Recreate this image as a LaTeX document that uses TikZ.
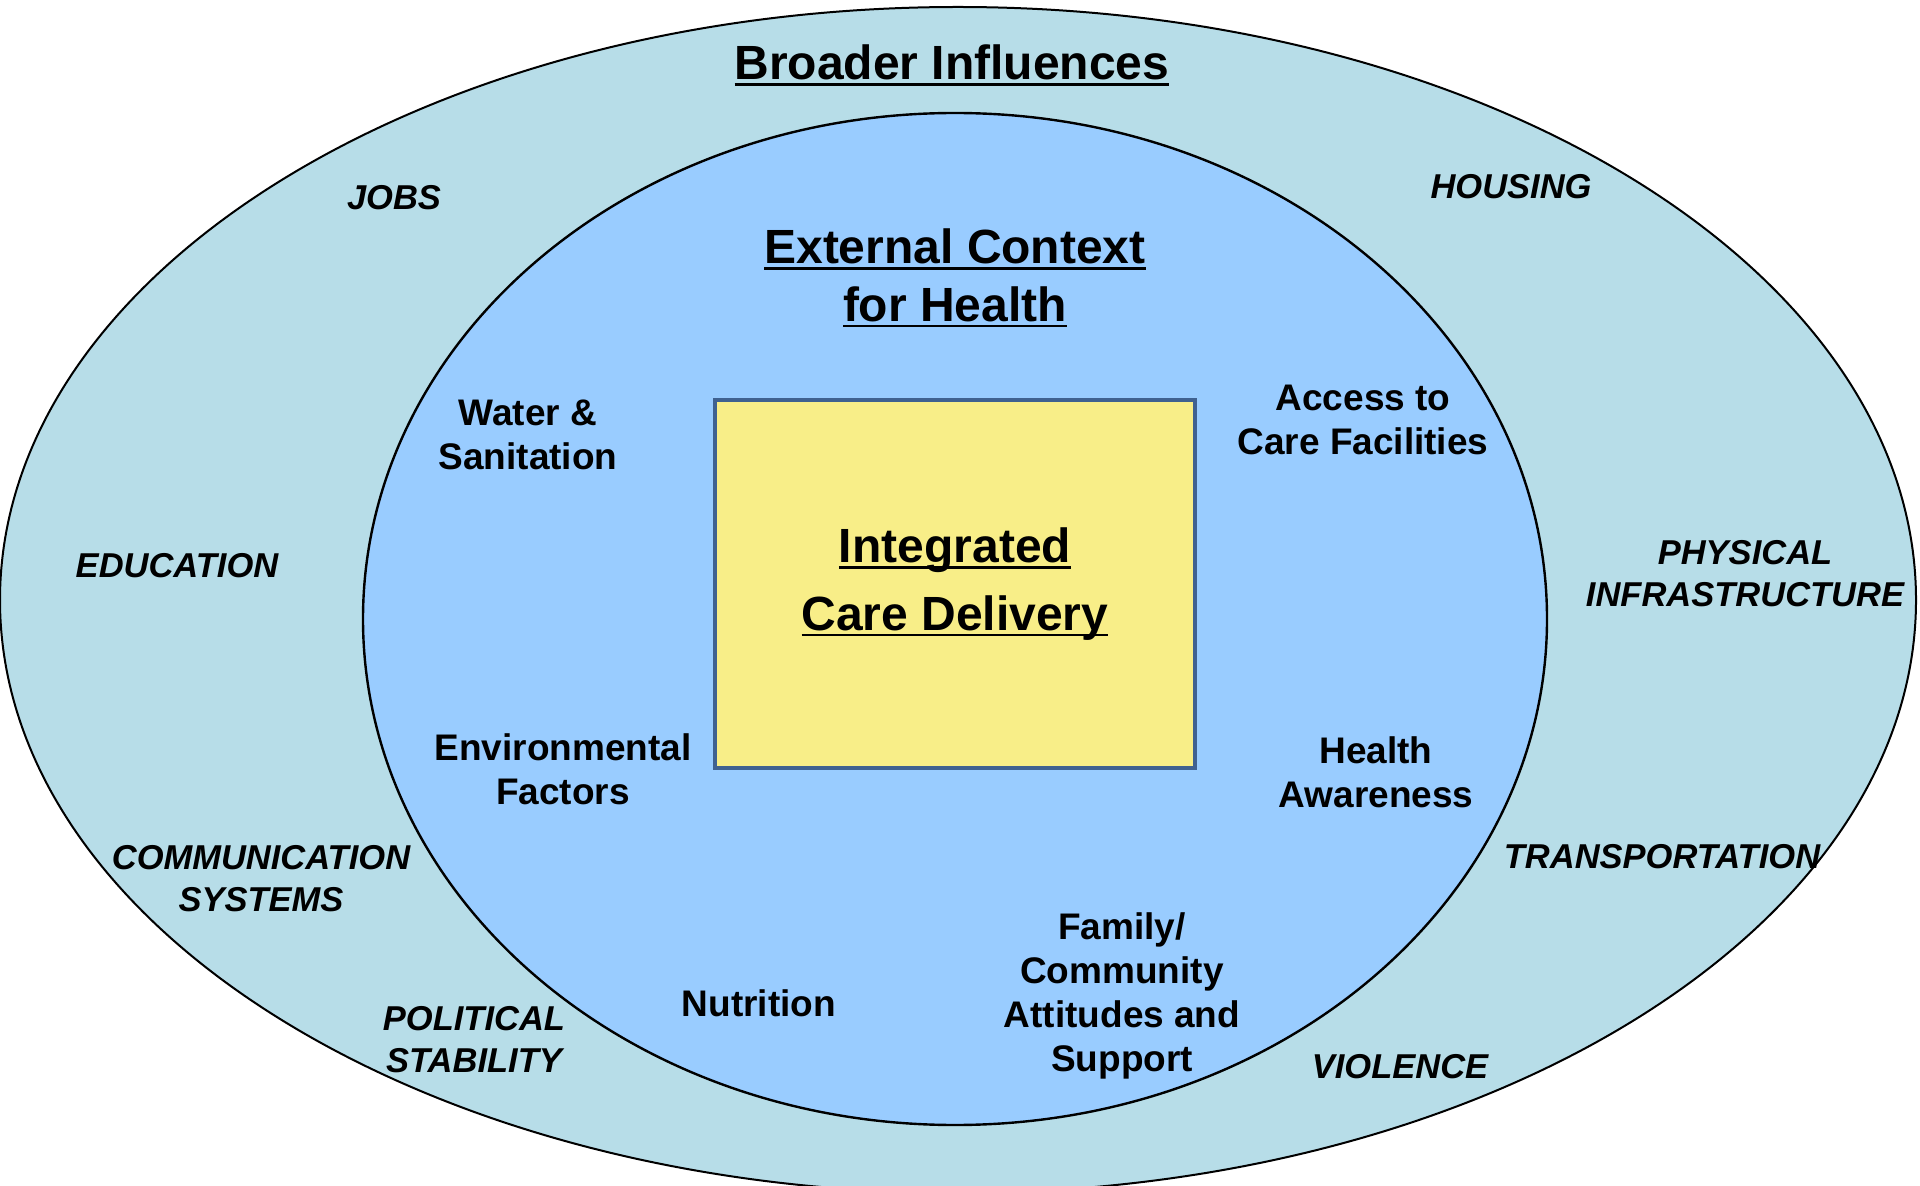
\documentclass[tikz,border=0pt]{standalone}
\usepackage{fontspec}
\setmainfont{Liberation Sans}
\usetikzlibrary{shapes.geometric}

\definecolor{broadblue}{HTML}{B7DDE8}
\definecolor{contextblue}{HTML}{99CCFF}
\definecolor{careyellow}{HTML}{F8EE88}
\definecolor{careedge}{HTML}{3F6190}

% underline at a fixed depth, through the descenders
\newcommand{\ulbf}[1]{\setbox0\hbox{#1}\rlap{\rule[-0.13em]{\wd0}{0.055em}}\box0}

\begin{document}
\begin{tikzpicture}[x=0.5pt,y=-0.5pt,
  broad/.style={ellipse,draw=black,line width=1pt,fill=broadblue,minimum width=958pt,minimum height=593pt,inner sep=0pt},
  context/.style={ellipse,draw=black,line width=1.2pt,fill=contextblue,minimum width=592pt,minimum height=506pt,inner sep=0pt},
  care/.style={rectangle,draw=careedge,line width=2.4pt,fill=careyellow,minimum width=240pt,minimum height=184pt,inner sep=0pt,align=center,font=\fontsize{24}{33.7}\selectfont\bfseries},
  title/.style={align=center,inner sep=0pt,font=\fontsize{24}{28.8}\selectfont\bfseries},
  factor/.style={align=center,inner sep=0pt,font=\fontsize{18.5}{22}\selectfont\bfseries},
  influence/.style={align=center,inner sep=0pt,font=\fontsize{17.25}{21}\selectfont\bfseries\itshape}]

  \useasboundingbox (0,0) rectangle (1920,1186) ;

  % the three nested areas
  \node[broad]   at ( 958, 600) (broader) {} ;
  \node[context] at ( 955, 619) (context) {} ;
  \node[care]    at ( 955, 584) (care)    {\ulbf{Integrated}\\\ulbf{Care Delivery}} ;

  \node[title] at ( 952,  65) (broadtitle)   {\ulbf{Broader Influences}} ;
  \node[title] at ( 955, 278) (contexttitle) {\ulbf{External Context}\\\ulbf{for Health}} ;

  % outer ring
  \node[influence] at ( 394, 198) (jobs)      {JOBS} ;
  \node[influence] at (1511, 187) (housing)   {HOUSING} ;
  \node[influence] at ( 177, 566) (education) {EDUCATION} ;
  \node[influence] at (1745, 574) (physical)  {PHYSICAL\\INFRASTRUCTURE} ;
  \node[influence] at ( 261, 879) (comms)     {COMMUNICATION\\SYSTEMS} ;
  \node[influence] at (1662, 857) (transport) {TRANSPORTATION} ;
  \node[influence] at ( 474,1040) (political) {POLITICAL\\STABILITY} ;
  \node[influence] at (1400,1067) (violence)  {VIOLENCE} ;

  % inner ring
  \node[factor] at ( 528, 435) (water)     {Water \&\\Sanitation} ;
  \node[factor] at (1363, 420) (access)    {Access to\\Care Facilities} ;
  \node[factor] at ( 563, 769) (environ)   {Environmental\\Factors} ;
  \node[factor] at (1376, 772) (awareness) {Health\\Awareness} ;
  \node[factor] at ( 759,1003) (nutrition) {Nutrition} ;
  \node[factor] at (1122, 996) (family)    {Family/\\Community\\Attitudes and\\Support} ;

\end{tikzpicture}
\end{document}
